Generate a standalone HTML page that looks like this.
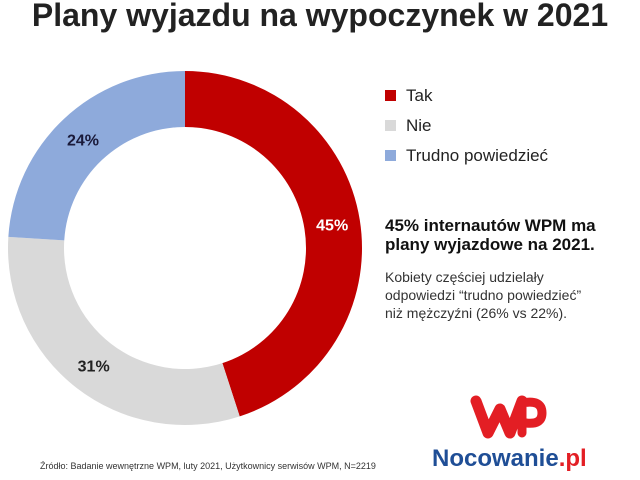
<!DOCTYPE html>
<html><head><meta charset="utf-8"><style>
body{margin:0;width:640px;height:480px;background:#fff;overflow:hidden;font-family:"Liberation Sans",sans-serif;position:relative}
.t{position:absolute;white-space:nowrap}
</style></head><body>
<div class="t" style="left:0;top:-3px;width:640px;text-align:center;font-size:32px;font-weight:bold;color:#222">Plany wyjazdu na wypoczynek w 2021</div>
<svg id="c" width="640" height="480" style="position:absolute;left:0;top:0"></svg>
<div>
<div class="t" style="left:385px;top:86px;font-size:17px;color:#222"><span style="display:inline-block;width:11px;height:11px;background:#c00000;margin-right:10px"></span>Tak</div>
<div class="t" style="left:385px;top:116px;font-size:17px;color:#222"><span style="display:inline-block;width:11px;height:11px;background:#d9d9d9;margin-right:10px"></span>Nie</div>
<div class="t" style="left:385px;top:146px;font-size:17px;color:#222"><span style="display:inline-block;width:11px;height:11px;background:#8eaadb;margin-right:10px"></span>Trudno powiedzieć</div>
</div>
<div class="t" style="left:385px;top:216px;font-size:17px;font-weight:bold;line-height:19px;color:#111">45% internautów WPM ma<br>plany wyjazdowe na 2021.</div>
<div class="t" style="left:385px;top:268px;font-size:14px;line-height:18px;color:#333">Kobiety częściej udzielały<br>odpowiedzi “trudno powiedzieć”<br>niż mężczyźni (26% vs 22%).</div>
<div class="t" style="left:40px;top:461px;font-size:9px;color:#333">Źródło: Badanie wewnętrzne WPM, luty 2021, Użytkownicy serwisów WPM, N=2219</div>
<svg width="80" height="50" style="position:absolute;left:470px;top:393px">
<path d="M6 8 L18 40 L30 16 L40 40 L52 8" stroke="#e31e24" stroke-width="11" fill="none" stroke-linecap="round" stroke-linejoin="round"/>
<path d="M52 40 L52 10 Q72 6 72 20 Q72 32 56 30" stroke="#e31e24" stroke-width="9" fill="none" stroke-linecap="round"/>
</svg>
<div class="t" style="left:432px;top:445px;font-size:24px;font-weight:bold;color:#1f4e96">Nocowanie<span style="color:#e31e24">.pl</span></div>
<script>
const categories=["Tak","Nie","Trudno powiedzieć"];
const values=[45,31,24];
const colors=["#c00000","#d9d9d9","#8eaadb"];
const labelColors=["#fff","#222","#1a1a3a"];
const svg=document.getElementById('c');const NS="http://www.w3.org/2000/svg";
const cx=185,cy=248,R=177,r=121;
const total=values.reduce((a,b)=>a+b,0);
function pt(a,rad){return [cx+rad*Math.sin(a),cy-rad*Math.cos(a)];}
let acc=0;
values.forEach((v,i)=>{
 const a0=acc/total*2*Math.PI;acc+=v;const a1=acc/total*2*Math.PI;
 const lg=(a1-a0)>Math.PI?1:0;
 const p1=pt(a0,R),p2=pt(a1,R),p3=pt(a1,r),p4=pt(a0,r);
 const p=document.createElementNS(NS,'path');
 p.setAttribute('d',`M${p1} A${R},${R} 0 ${lg} 1 ${p2} L${p3} A${r},${r} 0 ${lg} 0 ${p4}Z`);
 p.setAttribute('fill',colors[i]);
 
 
 svg.appendChild(p);
 const m=(a0+a1)/2;const lp=pt(m,(R+r)/2);
 const t=document.createElementNS(NS,'text');
 t.setAttribute('x',lp[0]);t.setAttribute('y',lp[1]+6);
 t.setAttribute('text-anchor','middle');t.setAttribute('font-size','16');t.setAttribute('font-weight','bold');
 t.setAttribute('fill',labelColors[i]);t.setAttribute('font-family','Liberation Sans,sans-serif');
 t.textContent=v+'%';
 
 
 svg.appendChild(t);
});
</script>
</body></html>
